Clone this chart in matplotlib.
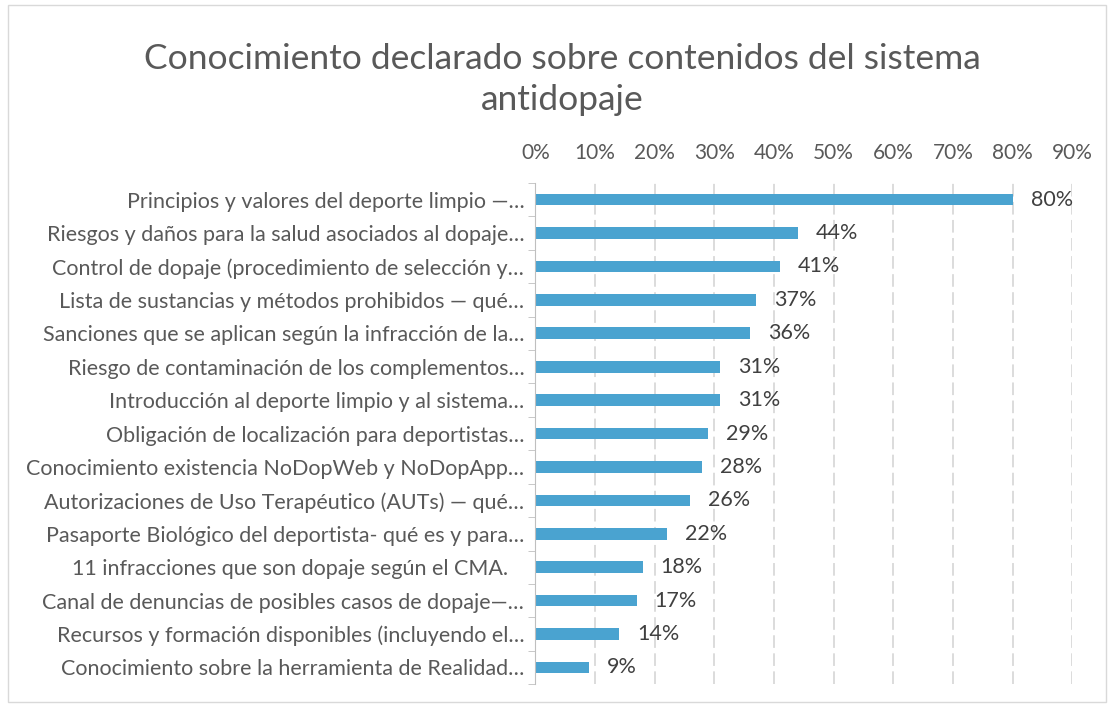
import numpy as np
import matplotlib.pyplot as plt
from matplotlib.patches import Rectangle
from matplotlib.ticker import FixedLocator, PercentFormatter

plt.rcParams['font.family'] = ['Lato', 'DejaVu Sans']

temas = [
    'Principios y valores del deporte limpio —…',
    'Riesgos y daños para la salud asociados al dopaje…',
    'Control de dopaje (procedimiento de selección y…',
    'Lista de sustancias y métodos prohibidos — qué…',
    'Sanciones que se aplican según la infracción de la…',
    'Riesgo de contaminación de los complementos…',
    'Introducción al deporte limpio y al sistema…',
    'Obligación de localización para deportistas…',
    'Conocimiento existencia NoDopWeb y NoDopApp…',
    'Autorizaciones de Uso Terapéutico (AUTs) — qué…',
    'Pasaporte Biológico del deportista- qué es y para…',
    '11 infracciones que son dopaje según el CMA.   ',
    'Canal de denuncias de posibles casos de dopaje—…',
    'Recursos y formación disponibles (incluyendo el…',
    'Conocimiento sobre la herramienta de Realidad…',
]
porcentajes = [80, 44, 41, 37, 36, 31, 31, 29, 28, 26, 22, 18, 17, 14, 9]

gris = '#595959'
azul = '#4aa3d0'

fig = plt.figure(figsize=(11.14, 7.09), dpi=100)
ax = fig.add_axes([0.4805, 0.035, 0.482, 0.707])

y = np.arange(len(temas))
barras = ax.barh(y, porcentajes, height=0.35, color=azul, zorder=3)
ax.bar_label(barras, labels=[f'{v}%' for v in porcentajes], padding=13,
             fontsize=15.5, color='#404040')

ax.set_ylim(len(temas) - 0.5, -0.5)
ax.set_yticks(y)
ax.set_yticklabels(temas, fontsize=15.5, color=gris)
ax.yaxis.set_minor_locator(FixedLocator(np.arange(-0.5, len(temas), 1)))
ax.tick_params(axis='y', which='major', length=0, pad=8)
ax.tick_params(axis='y', which='minor', length=5, color='#bfbfbf')

ax.set_xlim(0, 90)
ax.set_xticks(np.arange(0, 91, 10))
ax.xaxis.set_major_formatter(PercentFormatter(decimals=0))
ax.xaxis.tick_top()
ax.tick_params(axis='x', length=0, labelsize=15, labelcolor=gris, pad=14)
ax.grid(axis='x', color='#d9d9d9', linewidth=1.3, linestyle=(0, (7, 3)), zorder=0)

for lado in ['top', 'right', 'bottom']:
    ax.spines[lado].set_visible(False)
ax.spines['left'].set_color('#bfbfbf')
ax.spines['left'].set_zorder(4)

fig.suptitle('Conocimiento declarado sobre contenidos del sistema\nantidopaje',
             x=0.505, y=0.94, fontsize=25.5, color=gris, linespacing=1.35)

fig.patches.append(Rectangle((0.007, 0.01), 0.986, 0.983, transform=fig.transFigure,
                             fill=False, edgecolor='#d9d9d9', linewidth=1))

fig.savefig('out.png', dpi=100)
